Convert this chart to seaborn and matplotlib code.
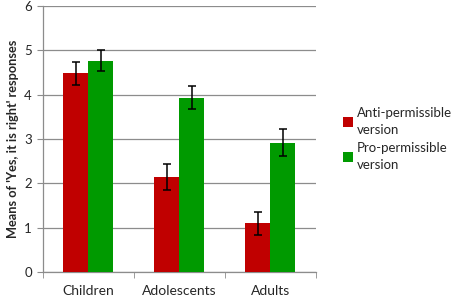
import pandas as pd
import matplotlib.pyplot as plt
import seaborn as sns
from matplotlib.ticker import FixedLocator

groups = ["Children", "Adolescents", "Adults"]
versions = ["Anti-permissible\nversion", "Pro-permissible\nversion"]
anti_means = [4.48, 2.15, 1.10]
pro_means = [4.77, 3.93, 2.92]
anti_err = [0.26, 0.29, 0.26]
pro_err = [0.23, 0.26, 0.31]
colors = ["#C00000", "#009A00"]

df = pd.DataFrame({
    "group": groups * 2,
    "version": [versions[0]] * 3 + [versions[1]] * 3,
    "mean": anti_means + pro_means,
    "err": anti_err + pro_err,
})

sns.set_style("white")
plt.rcParams["font.family"] = ["Lato", "DejaVu Sans"]

fig = plt.figure(figsize=(4.57, 2.98), dpi=100)
ax = fig.add_axes([0.094, 0.087, 0.597, 0.893])

sns.barplot(data=df, x="group", y="mean", hue="version", order=groups,
            hue_order=versions, palette=colors, width=0.55, errorbar=None,
            saturation=1, linewidth=0, ax=ax, zorder=3)

# error bars from the bar patches
for cont, errs in zip(ax.containers, [anti_err, pro_err]):
    for bar, e in zip(cont, errs):
        xc = bar.get_x() + bar.get_width() / 2
        ax.errorbar(xc, bar.get_height(), yerr=e, color="black", lw=1.1,
                    capsize=3, capthick=1.1, zorder=4)

ax.set_ylim(0, 6)
ax.set_xlim(-0.5, 2.5)
ax.set_yticks(range(7))
ax.yaxis.grid(True, color="#8c8c8c", lw=0.9, zorder=0)
ax.set_axisbelow(True)
for s in ["top", "right"]:
    ax.spines[s].set_visible(False)
for s in ["left", "bottom"]:
    ax.spines[s].set_color("#8c8c8c")
    ax.spines[s].set_linewidth(0.9)

ax.tick_params(axis="y", left=True, length=4, color="#8c8c8c", labelsize=9.5, pad=4)
ax.tick_params(axis="x", which="major", bottom=False, labelsize=10, pad=6)
ax.xaxis.set_minor_locator(FixedLocator([-0.5, 0.5, 1.5, 2.5]))
ax.tick_params(axis="x", which="minor", bottom=True, length=4, color="#8c8c8c")

ax.set_xlabel("")
ax.set_ylabel("Means of 'Yes, it is right' responses", fontsize=9.2,
              fontweight="bold", labelpad=4)

leg = ax.legend(loc="center left", bbox_to_anchor=(1.1, 0.5), frameon=False,
                fontsize=9.5, handlelength=0.75, handleheight=0.75,
                handletextpad=0.3, labelspacing=0.5, borderpad=0,
                borderaxespad=0)
for t in leg.get_texts():
    t.set_linespacing(1.45)

fig.savefig("out.png", dpi=100)
